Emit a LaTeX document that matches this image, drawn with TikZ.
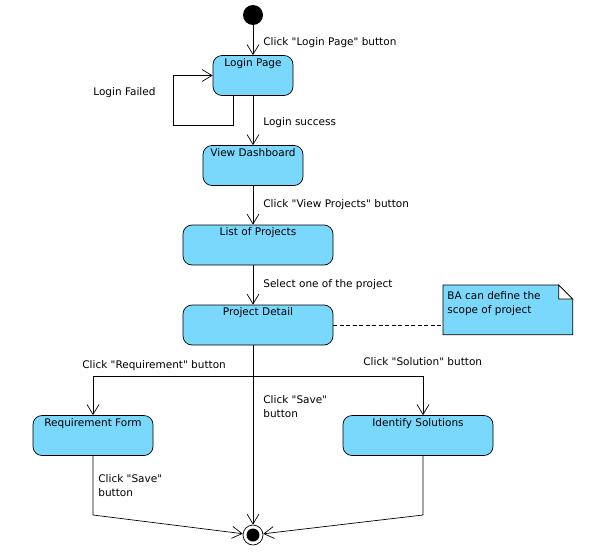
\documentclass[tikz,border=0pt]{standalone}
\usepackage{fontspec}
\setmainfont{DejaVu Sans}
\usetikzlibrary{arrows.meta}

\definecolor{stateblue}{RGB}{122,216,252}

\begin{document}
\begin{tikzpicture}[x=1pt,y=-1pt,line width=0.7pt,
    font=\fontsize{10.5}{14}\selectfont,
    state/.style 2 args={rectangle,draw,fill=stateblue,rounded corners=9pt,inner sep=0pt,minimum width=#1,minimum height=40pt,
      label={[anchor=base,yshift=-11pt,inner sep=0pt]north:#2}},
    initial/.style={circle,fill=black,inner sep=0pt,minimum size=20pt},
    final/.style={circle,draw,fill=white,inner sep=0pt,minimum size=20pt},
    caption/.style={anchor=base west,inner sep=0pt},
    twoline/.style={anchor=north west,inner sep=0pt,align=left},
    trans/.style={-{Straight Barb[length=10pt,width=12pt]}}
    ]

    \useasboundingbox (0,0) rectangle (591,557);

    \node (init) [initial] at (253,15) {};
    \node (login) [state={80pt}{Login Page}] at (253,75.5) {};
    \node (dash) [state={100pt}{View Dashboard}] at (253,165.5) {};
    \node (list) [state={150pt}{List of Projects}] at (258,245) {};
    \node (detail) [state={150pt}{Project Detail}] at (258,325) {};
    \node (reqform) [state={120pt}{Requirement Form}] at (93,435.5) {};
    \node (idsol) [state={150pt}{Identify Solutions}] at (418,435.5) {};
    \node (final) [final] at (253,535) {};
    \node (finaldot) [circle,fill=black,inner sep=0pt,minimum size=13pt] at (final) {};

    \node (note) [anchor=north west,inner sep=0pt,minimum width=129pt,minimum height=49pt] at (443,285) {};
    \draw[fill=stateblue] (note.north west) -- ([xshift=-14pt]note.north east) -- ([yshift=-14pt]note.north east)
      -- (note.south east) -- (note.south west) -- cycle;
    \draw[fill=white] ([xshift=-14pt]note.north east) -- ([yshift=-14pt]note.north east)
      -- ([xshift=-14pt,yshift=-14pt]note.north east) -- cycle;
    \node (notetext) [twoline] at (447,290.9) {BA can define the\\scope of project};

    \coordinate (fork) at (253,376);
    \coordinate (solfork) at (423,376);
    \coordinate (joinL) at (93,515);
    \coordinate (joinR) at (423,515);

    \draw[trans] (init) -- (login);
    \draw[trans] ([xshift=-20pt]login.south) |- (173,125) |- (login.west);
    \draw[trans] (login) -- (dash);
    \draw[trans] (dash) -- (dash |- list.north);
    \draw[trans] (list.south -| init) -- (detail.north -| init);
    \draw[trans] (detail.south -| init) -- (final);
    \draw[trans] (fork) -| (reqform);
    \draw[trans] (fork) -- (solfork) -- (solfork |- idsol.north);
    \draw[trans] (reqform) -- (joinL) -- (final);
    \draw[trans] (idsol.south -| joinR) -- (joinR) -- (final);
    \draw[dashed,dash pattern=on 4pt off 2.5pt] (detail.east) -- (detail.east -| note.west);

    \node (lbinit) [caption] at (263,45.9) {Click \textquotedbl Login Page\textquotedbl{} button};
    \node (lbfail) [caption] at (93,95.9) {Login Failed};
    \node (lbsuccess) [caption] at (263,125.9) {Login success};
    \node (lbview) [caption] at (263,207.9) {Click \textquotedbl View Projects\textquotedbl{} button};
    \node (lbselect) [caption] at (263,287.9) {Select one of the project};
    \node (lbreq) [caption] at (82,368.9) {Click \textquotedbl Requirement\textquotedbl{} button};
    \node (lbsol) [caption] at (363,365.9) {Click \textquotedbl Solution\textquotedbl{} button};
    \node (lbsave) [twoline] at (263,394.9) {Click \textquotedbl Save\textquotedbl\\button};
    \node (lbsavereq) [twoline] at (98,473.9) {Click \textquotedbl Save\textquotedbl\\button};

  \end{tikzpicture}
\end{document}
